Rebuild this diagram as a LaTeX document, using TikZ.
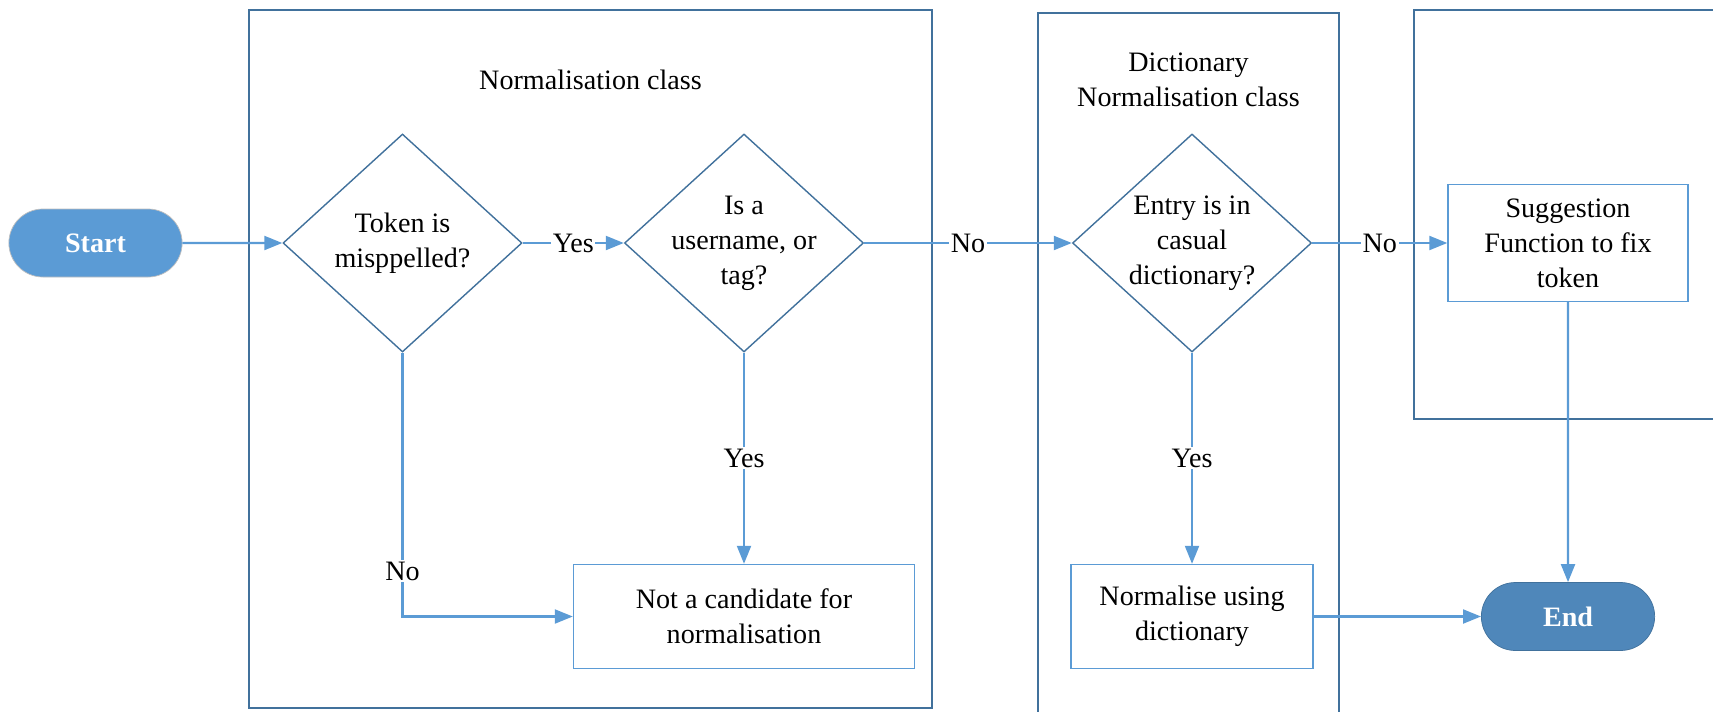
\documentclass[tikz,border=0pt]{standalone}
\usepackage{fontspec}
\setmainfont{Liberation Serif}
\usepackage{xcolor}
\usepackage{tikz}
\usetikzlibrary{shapes.geometric, shapes.misc, arrows.meta, positioning}

\definecolor{lineblue}{HTML}{5B9BD5}
\definecolor{frameblue}{HTML}{41719C}
\definecolor{endblue}{HTML}{4F87BA}

\begin{document}
\begin{tikzpicture}[x=0.2mm, y=-0.2mm,
    font=\fontsize{16}{20}\selectfont,
    lane/.style={draw=frameblue, line width=0.8pt},
    lanetitle/.style={align=center, inner sep=0pt},
    terminal/.style={rounded rectangle, minimum width=37mm, minimum height=13.6mm,
                     text=white, font=\fontsize{16}{19}\selectfont\bfseries},
    decision/.style={diamond, draw=frameblue, line width=0.8pt, aspect=1.096,
                     minimum width=47.8mm, minimum height=43.6mm, inner sep=-1.4mm,
                     align=center},
    process/.style={rectangle, draw=lineblue, line width=0.8pt,
                    minimum height=20.8mm, align=center},
    arrow/.style={-{Triangle[length=3.6mm, width=2.8mm]}, draw=lineblue, line width=1.2pt},
    answer/.style={fill=white, inner sep=1pt}
]
\clip (0,0) rectangle (1713,711);

% --- Swim lanes ---
\draw [lane] (249,10) rectangle (932,708);
\draw [lane] (1038,13) rectangle (1339,730);
\draw [lane] (1414,10) rectangle (1760,419);
\node (normtitle) [lanetitle] at (590.5,80) {Normalisation class};
\node (dicttitle) [lanetitle] at (1188.5,80) {Dictionary\\Normalisation class};

% --- Steps ---
\node (start) [terminal, fill=lineblue, draw=black!25] at (95.5,243) {Start};
\node (misspelt) [decision] at (402.5,243) {Token is\\misppelled?};
\node (usertag) [decision] at (744,243) {Is a\\username, or\\tag?};
\node (casual) [decision] at (1192,243) {Entry is in\\casual\\dictionary?};
\node (fixtoken) [process, minimum width=48mm, minimum height=23.4mm] at (1568,243) {Suggestion\\Function to fix\\token};
\node (skip) [process, minimum width=68.2mm] at (744,616.5) {Not a candidate for\\normalisation};
\node (normdict) [process, minimum width=48.4mm] at (1192,616.5) {Normalise using\\dictionary};
\node (end) [terminal, fill=endblue, draw=frameblue] at (1568,616.5) {End};

% --- Arrows ---
\draw [arrow] (start) -- (misspelt);
\draw [arrow] (misspelt) -- node (yesA) [answer] {Yes} (usertag);
\draw [arrow] (usertag) -- node (noB) [answer] {No} (casual);
\draw [arrow] (casual) -- node (noC) [answer] {No} (fixtoken);
\draw [arrow] (usertag) -- node (yesB) [answer] {Yes} (skip);
\draw [arrow] (misspelt) |- node (noA) [answer, pos=0.414] {No} (skip);
\draw [arrow] (casual) -- node (yesC) [answer] {Yes} (normdict);
\draw [arrow] (normdict) -- (end);
\draw [arrow] (fixtoken) -- (end);
\end{tikzpicture}
\end{document}
